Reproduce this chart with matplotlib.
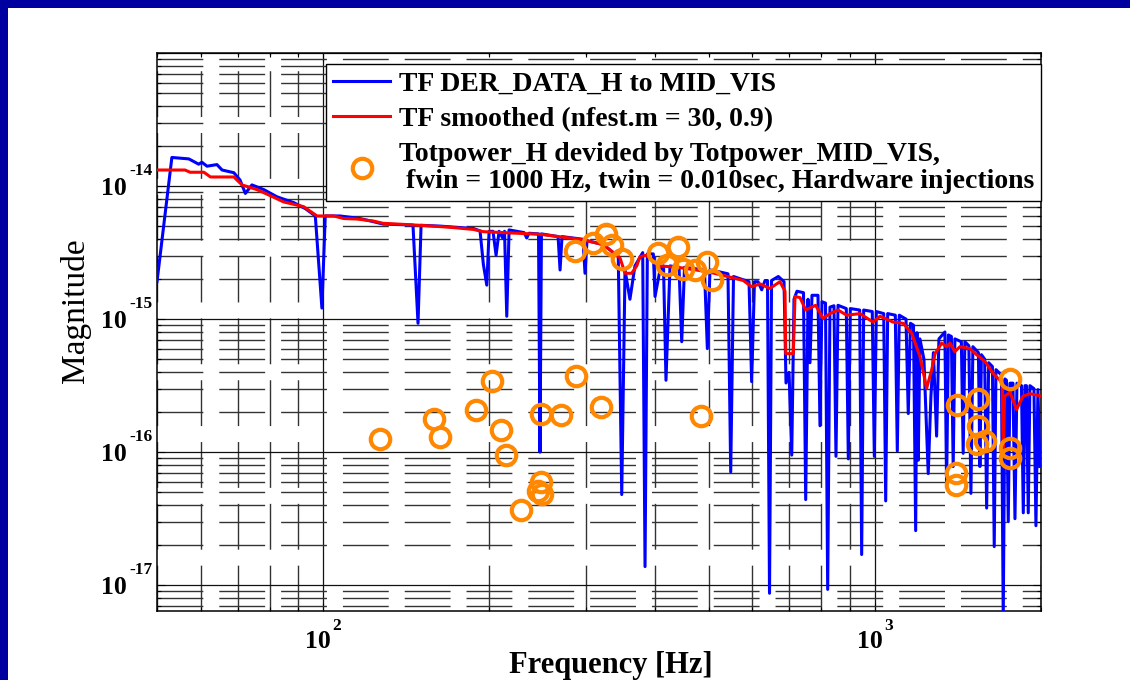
import matplotlib
matplotlib.use("Agg")
import matplotlib.pyplot as plt
import matplotlib.transforms as mtransforms
from matplotlib.patches import Rectangle
from matplotlib.font_manager import FontProperties

# ---------------- data ----------------
blue_f = [50, 53.2, 57.1, 59.5, 60.3, 61.6, 64.2, 65.6, 68.9, 70.7, 72.3, 74.3, 78.1, 82.5,
          88.5, 92.9, 96.8, 99.5, 100.9, 107.3, 116.6, 123.3, 128.4, 145.5, 148.6, 150.5,
          162.9, 187.2, 192.5, 195.2, 198.0, 199.9, 203.2, 205.8, 208.4, 211.6, 213.2, 215.2,
          217.3, 231.3, 233.9, 236.1, 245.7, 247.2, 248.7, 266.6, 268.8, 271.0, 295.8, 298.3,
          300.8, 322, 342.7, 347.7, 352.5, 359.8, 367.4, 379.5, 383.2, 386.9, 396.7, 399.5,
          407.9, 413.9, 418.2, 425.3, 441.6, 446.6, 451.8, 491.1, 497, 502.5, 516.7, 541.7,
          547.9, 554.3, 591.4, 597.9, 605, 614, 623.5, 632.2, 638.8, 644.2, 649.7, 668.3,
          684.4, 690.1, 698.9, 706.8, 713.5, 722.4, 742.3, 749.2, 756.4, 762.7, 769.1, 788.6,
          795.2, 801.8, 813.7, 821.2, 829, 843, 850.1, 857.3, 887.5, 895, 902.5, 938.5, 946.3,
          954.2, 989.1, 997.6, 1006, 1037.5, 1046.1, 1054.8, 1088.9, 1098, 1107.1, 1138.6,
          1149.4, 1160, 1174.7, 1185.5, 1191.8, 1198.4, 1206.7, 1227, 1249.2, 1263.4, 1276.6,
          1293.7, 1306.3, 1339.2, 1348.7, 1359, 1376, 1386.4, 1396.3, 1434.5, 1445.4, 1455.8,
          1480.2, 1492.8, 1505.2, 1540.3, 1550, 1559.7, 1581, 1594.1, 1607.6, 1633, 1645.4,
          1657.2, 1695.8, 1708.4, 1720.7, 1731.4, 1744.5, 1757, 1779, 1794.1, 1809, 1843.5,
          1857.5, 1870.4, 1882.1, 1896.4, 1909.6, 1942, 1958.2, 1974.5, 1991]
blue_m = [1.91e-15, 1.64e-14, 1.60e-14, 1.46e-14, 1.51e-14, 1.41e-14, 1.45e-14, 1.32e-14,
          1.26e-14, 1.11e-14, 8.8e-15, 1.02e-14, 9.4e-15, 8.3e-15, 7.5e-15, 6.76e-15, 5.96e-15,
          1.21e-15, 5.96e-15, 5.96e-15, 5.7e-15, 5.4e-15, 5.18e-15, 5.09e-15, 9.3e-16, 5.07e-15,
          5.0e-15, 4.8e-15, 4.6e-15, 2.57e-15, 1.80e-15, 4.57e-15, 4.57e-15, 3.02e-15, 4.57e-15,
          4.07e-15, 4.57e-15, 1.05e-15, 4.68e-15, 4.47e-15, 4.07e-15, 4.42e-15, 4.37e-15,
          1.0e-16, 4.37e-15, 4.17e-15, 2.34e-15, 4.17e-15, 3.98e-15, 2.21e-15, 3.89e-15,
          3.63e-15, 2.95e-15, 4.8e-17, 2.34e-15, 1.41e-15, 2.51e-15, 3.16e-15, 1.38e-17,
          3.09e-15, 3.09e-15, 1.48e-15, 2.34e-15, 2.51e-15, 3.47e-16, 2.51e-15, 2.45e-15,
          6.76e-16, 2.45e-15, 2.34e-15, 6.0e-16, 2.34e-15, 2.29e-15, 2.19e-15, 7.1e-17,
          2.09e-15, 1.91e-15, 3.39e-16, 1.91e-15, 1.91e-15, 1.66e-15, 1.95e-15, 1.95e-15,
          8.7e-18, 1.95e-15, 2.09e-15, 1.91e-15, 3.31e-16, 3.98e-16, 9.5e-17, 1.41e-15,
          1.62e-15, 1.58e-15, 4.4e-17, 1.41e-15, 4.7e-16, 1.51e-15, 1.51e-15, 1.58e-16,
          1.35e-15, 1.32e-15, 9.3e-18, 1.23e-15, 1.26e-15, 9.3e-17, 1.27e-15, 1.20e-15,
          8.9e-17, 1.20e-15, 1.17e-15, 1.7e-17, 1.17e-15, 1.14e-15, 9.3e-17, 1.14e-15,
          1.10e-15, 4.3e-17, 1.10e-15, 1.07e-15, 1.02e-16, 1.07e-15, 1.0e-15, 1.95e-16,
          9.3e-16, 9.0e-16, 2.57e-17, 7.9e-16, 8.7e-17, 7.1e-16, 5.0e-16, 6.9e-17, 2.63e-16,
          5.6e-16, 1.32e-16, 7.1e-16, 8.0e-16, 5.5e-17, 7.6e-16, 7.4e-16, 7.8e-17, 7.1e-16,
          6.76e-16, 9.8e-17, 6.76e-16, 6.3e-16, 4.9e-17, 6.2e-16, 5.6e-16, 7.8e-17, 5.4e-16,
          5.0e-16, 3.8e-17, 4.7e-16, 4.4e-16, 1.95e-17, 4.17e-16, 3.8e-16, 5.6e-18, 3.55e-16,
          3.47e-16, 3.0e-17, 3.3e-16, 3.3e-16, 3.16e-17, 3.3e-16, 3.16e-16, 3.5e-17, 3.16e-16,
          3.16e-16, 3.5e-17, 3.16e-16, 3.0e-16, 2.8e-17, 2.95e-16, 7.8e-17]

red_f = [50, 56.2, 57.4, 60.8, 62.5, 68.9, 71.3, 75.9, 79.1, 84.8, 92.2, 97.5, 104.5, 109,
         115.2, 123.3, 128.4, 149.9, 169.8, 187.2, 195.2, 247.2, 292.1, 322, 345.2, 352.5,
         362.4, 370.1, 375.2, 385.7, 407.9, 439.5, 498.2, 553.8, 577.4, 597.9, 619.2, 645,
         672.9, 687.2, 689.4, 711.4, 716.5, 731.7, 749.2, 780.8, 805.9, 829, 857.3, 889,
         939.8, 992, 1021.5, 1078.6, 1126, 1166.5, 1206.7, 1241, 1267.7, 1285.3, 1321.6,
         1348.7, 1368, 1396.3, 1426, 1486.6, 1528.6, 1583, 1638.6, 1685, 1701, 1708.4,
         1717.6, 1757, 1806.4, 1854.7, 1909.6, 1963.8, 2000]
red_m = [1.32e-14, 1.32e-14, 1.27e-14, 1.27e-14, 1.17e-14, 1.17e-14, 1.02e-14, 9.4e-15,
         8.7e-15, 7.6e-15, 7.0e-15, 5.96e-15, 5.96e-15, 5.7e-15, 5.65e-15, 5.46e-15, 5.25e-15,
         5.07e-15, 4.9e-15, 4.72e-15, 4.54e-15, 4.34e-15, 3.98e-15, 3.63e-15, 2.88e-15,
         2.21e-15, 2.21e-15, 2.51e-15, 2.95e-15, 3.02e-15, 2.51e-15, 2.45e-15, 2.27e-15,
         2.04e-15, 1.95e-15, 1.75e-15, 1.84e-15, 1.70e-15, 1.91e-15, 1.62e-15, 5.5e-16,
         5.5e-16, 1.48e-15, 1.45e-15, 1.17e-15, 1.27e-15, 1.01e-15, 1.10e-15, 1.17e-15,
         1.07e-15, 1.10e-15, 9.5e-16, 1.05e-15, 9.5e-16, 9.3e-16, 7.8e-16, 5.25e-16, 3.02e-16,
         4.17e-16, 5.5e-16, 6.6e-16, 6.2e-16, 6.6e-16, 5.7e-16, 6.2e-16, 6.0e-16, 5.4e-16,
         4.8e-16, 3.9e-16, 3.47e-16, 3.47e-16, 9.8e-17, 2.63e-16, 2.82e-16, 2.09e-16,
         2.63e-16, 2.75e-16, 2.69e-16, 2.63e-16]

circ_f = [126.8, 159.1, 162.9, 189.1, 202.2, 210.4, 214.3, 248.3, 269.6, 286.7, 285.5, 248.3,
          245.2, 249.4, 228.7, 308.8, 325.6, 333.4, 348.5, 318.8, 405, 419.4, 440.2, 449.5,
          472, 495.7, 506.1, 483.4, 1757, 1407, 1536, 1536, 1533, 1583, 1757, 1757, 1403, 1403]
circ_m = [1.245e-16, 1.77e-16, 1.29e-16, 2.09e-16, 3.42e-16, 1.46e-16, 9.6e-17, 1.95e-16,
          1.90e-16, 3.76e-16, 3.27e-15, 5.94e-17, 5.09e-17, 4.83e-17, 3.66e-17, 3.71e-15,
          4.35e-15, 3.60e-15, 2.82e-15, 2.19e-16, 3.12e-15, 2.55e-15, 3.46e-15, 2.40e-15,
          2.33e-15, 2.70e-15, 1.96e-15, 1.87e-16, 3.54e-16, 2.25e-16, 2.49e-16, 1.57e-16,
          1.16e-16, 1.22e-16, 1.07e-16, 8.97e-17, 6.98e-17, 5.65e-17]

xtick_vals = [100, 1000]
xtick_exps = ['2', '3']
ytick_vals = [1e-14, 1e-15, 1e-16, 1e-17]
ytick_exps = ['-14', '-15', '-16', '-17']

labels = ['TF DER_DATA_H to MID_VIS',
          'TF smoothed (nfest.m = 30, 0.9)',
          'Totpower_H devided by Totpower_MID_VIS,\n fwin = 1000 Hz, twin = 0.010sec, Hardware injections']

# ---------------- figure ----------------
SERIF = 'Liberation Serif'
W, H = 1130, 680
fig = plt.figure(figsize=(W / 100, H / 100), dpi=100)
fig.patch.set_facecolor('white')
fig.patches.append(Rectangle((0, 1 - 8 / H), 1, 8 / H, transform=fig.transFigure,
                             facecolor='#0000A0', edgecolor='none', zorder=0))
fig.patches.append(Rectangle((0, 0), 8 / W, 1, transform=fig.transFigure,
                             facecolor='#0000A0', edgecolor='none', zorder=0))

L, R, T, B = 157, 1041, 53, 611
ax = fig.add_axes([L / W, 1 - B / H, (R - L) / W, (B - T) / H])
ax.set_xscale('log')
ax.set_yscale('log')
ax.set_xlim(50, 2000)
ax.set_ylim(6.4e-18, 1e-13)

l1, = ax.plot(blue_f, blue_m, color='#0000FF', lw=2.2, zorder=3)
l2, = ax.plot(red_f, red_m, color='#FF0000', lw=2.2, zorder=4)
l3, = ax.plot(circ_f, circ_m, ls='none', marker='o', ms=14, mew=3.0,
              mfc='none', mec='#FF8800', zorder=5)

ax.set_axisbelow(True)
ax.grid(which='major', color='#111111', lw=0.9, ls='-')
ax.grid(which='minor', color='#333333', lw=1.0, ls=(0, (33, 11.5)))
ax.tick_params(which='both', direction='in', top=True, right=True,
               labelleft=False, labelbottom=False, width=0.8, color='k')
ax.tick_params(which='major', length=6)
ax.tick_params(which='minor', length=3)
for s in ax.spines.values():
    s.set_linewidth(1.1)
    s.set_color('k')

# tick labels
ty = mtransforms.blended_transform_factory(ax.transAxes, ax.transData)
for v, e in zip(ytick_vals, ytick_exps):
    ax.text(0, v, '10', transform=mtransforms.offset_copy(ty, fig=fig, x=-30, y=-9, units='dots'),
            ha='right', va='baseline', fontsize=18.5, fontweight='bold', family=SERIF)
    ax.text(0, v, e, transform=mtransforms.offset_copy(ty, fig=fig, x=-28, y=11, units='dots'),
            ha='left', va='baseline', fontsize=12.5, fontweight='bold', family=SERIF)
tx = mtransforms.blended_transform_factory(ax.transData, ax.transAxes)
for v, e in zip(xtick_vals, xtick_exps):
    ax.text(v, 0, '10', transform=mtransforms.offset_copy(tx, fig=fig, x=-5, y=-37, units='dots'),
            ha='center', va='baseline', fontsize=18.5, fontweight='bold', family=SERIF)
    ax.text(v, 0, e, transform=mtransforms.offset_copy(tx, fig=fig, x=9, y=-19, units='dots'),
            ha='left', va='baseline', fontsize=12.5, fontweight='bold', family=SERIF)

fig.text(75 / W, 1 - 311 / H, 'Magnitude', rotation=90, ha='center', va='center',
         fontsize=24, family=SERIF)
fig.text(611 / W, 1 - 666 / H, 'Frequency [Hz]', ha='center', va='center',
         fontsize=22, fontweight='bold', family=SERIF)

leg = ax.legend([l1, l2, l3], labels, loc='upper right',
                bbox_to_anchor=(1.0, 1 - 11 / (B - T)), borderaxespad=0,
                prop=FontProperties(family=SERIF, weight='bold', size=20),
                frameon=True, fancybox=False, edgecolor='k', framealpha=1,
                handlelength=2.05, handletextpad=0.3, labelspacing=0.36, borderpad=0.26)
leg.get_frame().set_linewidth(1.0)
for t in leg.get_texts():
    t.set_linespacing(1.08)
leg.set_zorder(10)

fig.savefig('out.png', dpi=100, facecolor='white')
